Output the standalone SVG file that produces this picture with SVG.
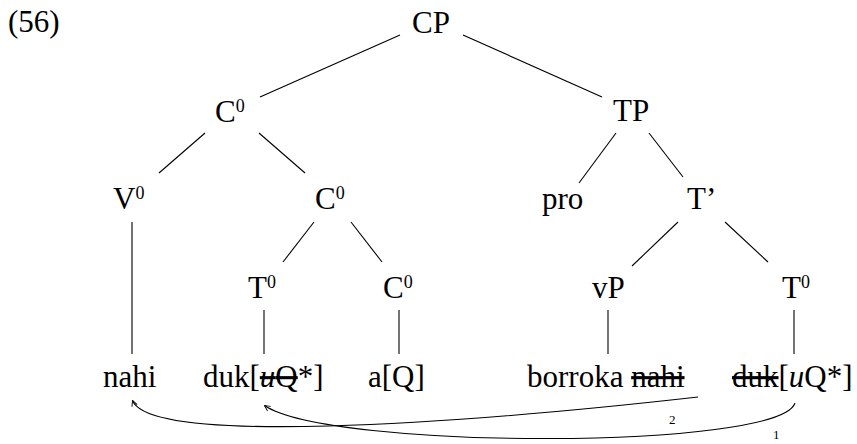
<svg xmlns="http://www.w3.org/2000/svg" width="857" height="444" viewBox="0 0 857 444">
<style>
text{font-family:"Liberation Serif","Times New Roman",serif;font-size:31px;fill:#000}
.sup{font-size:18px}
.small{font-size:13px}
.edge{stroke:#000;stroke-width:1.1;fill:none}
.mv{stroke:#000;stroke-width:1.1;fill:none;marker-end:url(#ah)}
.strike{text-decoration:line-through}
</style>
<defs>
<marker id="ah" viewBox="0 0 10 10" refX="9" refY="5" markerWidth="7" markerHeight="7" markerUnits="userSpaceOnUse" orient="auto">
<path d="M1,1 L9,5 L1,9" fill="none" stroke="#000" stroke-width="1.3"/>
</marker>
</defs>
<rect width="857" height="444" fill="#fff"/>
<g id="label"><text x="8" y="32">(56)</text></g>
<g id="connectors">
<line class="edge" x1="400" y1="35" x2="260" y2="97"/>
<line class="edge" x1="463" y1="35" x2="602" y2="97"/>
<line class="edge" x1="205" y1="133" x2="159" y2="173"/>
<line class="edge" x1="259" y1="133" x2="305" y2="173"/>
<line class="edge" x1="616" y1="133" x2="579" y2="183"/>
<line class="edge" x1="649" y1="133" x2="683" y2="177"/>
<line class="edge" x1="314" y1="222" x2="283" y2="262"/>
<line class="edge" x1="351" y1="222" x2="382" y2="262"/>
<line class="edge" x1="678" y1="222" x2="632" y2="266"/>
<line class="edge" x1="725" y1="222" x2="768" y2="262"/>
<line class="edge" x1="132" y1="222" x2="132" y2="354"/>
<line class="edge" x1="264" y1="310" x2="264" y2="354"/>
<line class="edge" x1="399" y1="310" x2="399" y2="354"/>
<line class="edge" x1="608" y1="310" x2="608" y2="354"/>
<line class="edge" x1="794" y1="310" x2="794" y2="354"/>
<path class="mv" d="M698,397 C450,425 150,445 132.5,400.5"/>
<path class="mv" d="M795,403 C780,450 330,450 264.5,405.5"/>
<text class="small" x="669" y="424">2</text>
<text class="small" x="773" y="439" font-size="12">1</text>
</g>
<g id="n-CP"><text x="412" y="33">CP</text></g>
<g id="n-C0-top"><text x="215" y="122">C<tspan class="sup" dy="-10">0</tspan></text></g>
<g id="n-TP"><text x="613" y="121">TP</text></g>
<g id="n-V0"><text x="113" y="209">V<tspan class="sup" dy="-10">0</tspan></text></g>
<g id="n-C0-mid"><text x="315" y="209">C<tspan class="sup" dy="-10">0</tspan></text></g>
<g id="n-pro"><text x="542" y="209">pro</text></g>
<g id="n-Tbar"><text x="687" y="209">T’</text></g>
<g id="n-T0-left"><text x="248" y="298">T<tspan class="sup" dy="-10">0</tspan></text></g>
<g id="n-C0-low"><text x="383" y="298">C<tspan class="sup" dy="-10">0</tspan></text></g>
<g id="n-vP"><text x="592" y="298">vP</text></g>
<g id="n-T0-right"><text x="782" y="298">T<tspan class="sup" dy="-10">0</tspan></text></g>
<g id="n-nahi"><text x="103" y="387">nahi</text></g>
<g id="n-duk-left"><text x="203" y="387">duk[<tspan class="strike"><tspan font-style="italic">u</tspan>Q</tspan>*]</text></g>
<g id="n-aQ"><text x="368" y="387">a[Q]</text></g>
<g id="n-borroka"><text x="527" y="387">borroka <tspan class="strike">nahi</tspan></text></g>
<g id="n-duk-right"><text x="732" y="387"><tspan class="strike">duk</tspan>[<tspan font-style="italic">u</tspan>Q*]</text></g>
</svg>
